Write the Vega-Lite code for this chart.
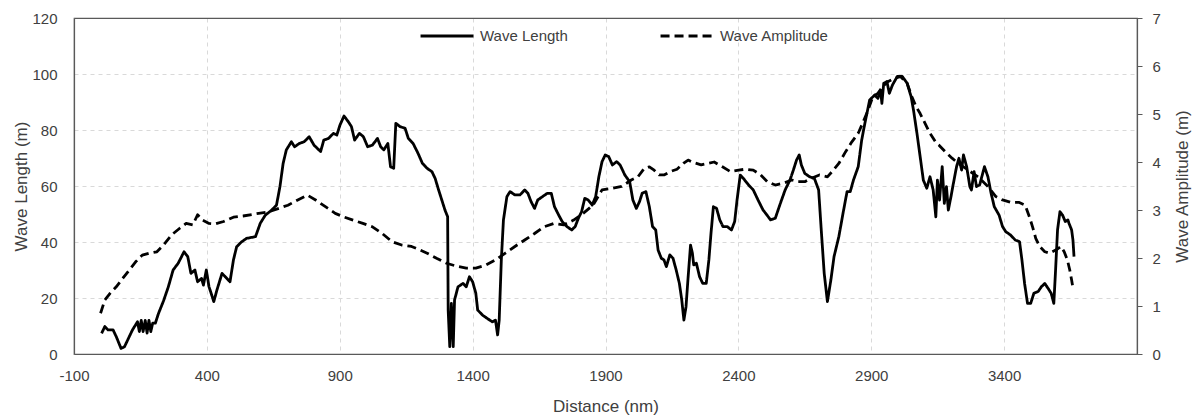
{
  "$schema": "https://vega.github.io/schema/vega-lite/v6.json",
  "width": 1063,
  "height": 336,
  "autosize": {"type": "none"},
  "padding": {"left": 74, "top": 18, "right": 55, "bottom": 63},
  "background": "white",
  "config": {
    "font": "Liberation Sans",
    "view": {"stroke": "#595959", "strokeWidth": 1.2},
    "axis": {"domainColor": "#595959", "domainWidth": 1.2, "labelColor": "#404040", "titleColor": "#404040", "labelFontSize": 15, "titleFontSize": 17, "titleFontWeight": "normal", "labelFont": "Liberation Sans", "titleFont": "Liberation Sans"}
  },
  "datasets": {
    "len": [
      {"d":4,"v":7.4},{"d":16,"v":9.8},{"d":28,"v":8.6},{"d":47,"v":8.6},{"d":59,"v":6.2},{"d":77,"v":2},{"d":90,"v":2.6},{"d":102,"v":5},{"d":120,"v":8.6},{"d":139,"v":11.5},{"d":146,"v":8},{"d":153,"v":12},{"d":160,"v":8},{"d":168,"v":12},{"d":175,"v":7.5},{"d":182,"v":12},{"d":189,"v":8},{"d":196,"v":11},{"d":206,"v":11},{"d":218,"v":14.5},{"d":237,"v":19},{"d":255,"v":24},{"d":273,"v":30},{"d":292,"v":32.4},{"d":314,"v":36.5},{"d":328,"v":34.8},{"d":340,"v":28.8},{"d":355,"v":30},{"d":365,"v":25.8},{"d":380,"v":27},{"d":387,"v":24.6},{"d":398,"v":30},{"d":408,"v":24},{"d":416,"v":21.7},{"d":426,"v":18.7},{"d":438,"v":22.9},{"d":457,"v":28.8},{"d":469,"v":27.6},{"d":487,"v":25.8},{"d":500,"v":33.6},{"d":512,"v":38.3},{"d":530,"v":40},{"d":549,"v":41.3},{"d":583,"v":41.9},{"d":601,"v":46.7},{"d":620,"v":49.6},{"d":644,"v":51.4},{"d":662,"v":53.2},{"d":675,"v":59.8},{"d":687,"v":68.1},{"d":699,"v":72.9},{"d":718,"v":75.8},{"d":730,"v":74},{"d":748,"v":75.2},{"d":766,"v":75.8},{"d":785,"v":77.6},{"d":803,"v":74.6},{"d":828,"v":72.3},{"d":840,"v":76.4},{"d":858,"v":77},{"d":876,"v":78.8},{"d":889,"v":78.2},{"d":901,"v":81.8},{"d":916,"v":85},{"d":932,"v":83},{"d":944,"v":81.2},{"d":956,"v":76.4},{"d":974,"v":78.8},{"d":989,"v":77.6},{"d":1005,"v":74},{"d":1023,"v":74.6},{"d":1042,"v":77},{"d":1054,"v":74},{"d":1066,"v":72.9},{"d":1081,"v":75.2},{"d":1091,"v":66.9},{"d":1103,"v":66.3},{"d":1111,"v":82.4},{"d":1127,"v":81.2},{"d":1146,"v":80.6},{"d":1158,"v":77},{"d":1176,"v":75.2},{"d":1195,"v":71.6},{"d":1211,"v":68.1},{"d":1229,"v":66.3},{"d":1247,"v":65.1},{"d":1259,"v":62.7},{"d":1272,"v":58.6},{"d":1284,"v":55},{"d":1296,"v":51.4},{"d":1306,"v":49},{"d":1308,"v":15.7},{"d":1314,"v":2.6},{"d":1320,"v":18.1},{"d":1327,"v":2.6},{"d":1332,"v":19.3},{"d":1345,"v":24},{"d":1364,"v":25.2},{"d":1376,"v":24},{"d":1388,"v":27.6},{"d":1400,"v":25.8},{"d":1412,"v":21.7},{"d":1419,"v":15.7},{"d":1437,"v":13.9},{"d":1455,"v":12.7},{"d":1474,"v":11.5},{"d":1486,"v":12.1},{"d":1494,"v":6.8},{"d":1500,"v":12.1},{"d":1508,"v":33.6},{"d":1516,"v":47.9},{"d":1529,"v":56.2},{"d":1541,"v":58},{"d":1559,"v":56.8},{"d":1578,"v":56.8},{"d":1596,"v":58.6},{"d":1608,"v":57.4},{"d":1620,"v":54.4},{"d":1633,"v":52},{"d":1645,"v":55},{"d":1663,"v":56.2},{"d":1681,"v":57.4},{"d":1696,"v":57.4},{"d":1708,"v":52.6},{"d":1724,"v":49.6},{"d":1737,"v":47.3},{"d":1755,"v":45.5},{"d":1773,"v":44.3},{"d":1786,"v":45.5},{"d":1798,"v":48.5},{"d":1810,"v":50.8},{"d":1822,"v":55.6},{"d":1835,"v":55},{"d":1850,"v":53.2},{"d":1863,"v":56.2},{"d":1875,"v":63.3},{"d":1887,"v":68.7},{"d":1899,"v":71.1},{"d":1912,"v":70.5},{"d":1926,"v":67.5},{"d":1942,"v":68.7},{"d":1955,"v":67.5},{"d":1973,"v":63.9},{"d":1991,"v":61.5},{"d":2003,"v":55},{"d":2016,"v":52},{"d":2028,"v":54.4},{"d":2038,"v":57.4},{"d":2052,"v":58},{"d":2065,"v":52.6},{"d":2077,"v":45.5},{"d":2089,"v":44.3},{"d":2098,"v":37.1},{"d":2110,"v":34.2},{"d":2120,"v":33.6},{"d":2129,"v":31.2},{"d":2142,"v":35.4},{"d":2154,"v":34.2},{"d":2166,"v":30},{"d":2178,"v":25.2},{"d":2187,"v":19.3},{"d":2195,"v":12.1},{"d":2203,"v":16.9},{"d":2211,"v":27.6},{"d":2220,"v":38.9},{"d":2227,"v":36},{"d":2232,"v":31.8},{"d":2242,"v":32.4},{"d":2254,"v":27.6},{"d":2266,"v":25.2},{"d":2279,"v":25.2},{"d":2289,"v":33.6},{"d":2297,"v":43.1},{"d":2306,"v":52.6},{"d":2318,"v":52},{"d":2330,"v":47.9},{"d":2342,"v":45.5},{"d":2358,"v":45.5},{"d":2374,"v":44.3},{"d":2386,"v":47.3},{"d":2395,"v":55},{"d":2407,"v":63.9},{"d":2419,"v":62.7},{"d":2438,"v":60.4},{"d":2456,"v":58.6},{"d":2474,"v":55},{"d":2493,"v":51.4},{"d":2503,"v":50.2},{"d":2521,"v":47.9},{"d":2539,"v":48.5},{"d":2558,"v":53.8},{"d":2576,"v":58.6},{"d":2594,"v":62.1},{"d":2607,"v":65.7},{"d":2619,"v":69.3},{"d":2629,"v":71.1},{"d":2637,"v":67.5},{"d":2650,"v":64.5},{"d":2668,"v":63.3},{"d":2686,"v":62.7},{"d":2702,"v":58.6},{"d":2711,"v":45.5},{"d":2723,"v":28.8},{"d":2735,"v":18.7},{"d":2748,"v":26.4},{"d":2760,"v":34.8},{"d":2778,"v":41.9},{"d":2796,"v":51.4},{"d":2809,"v":58},{"d":2821,"v":58},{"d":2833,"v":62.1},{"d":2851,"v":66.9},{"d":2864,"v":76.4},{"d":2876,"v":82.4},{"d":2894,"v":90.7},{"d":2913,"v":92.5},{"d":2925,"v":91.3},{"d":2935,"v":94.3},{"d":2940,"v":89.5},{"d":2947,"v":96.7},{"d":2959,"v":97.3},{"d":2968,"v":93.1},{"d":2980,"v":96.1},{"d":2998,"v":99.1},{"d":3017,"v":99.1},{"d":3035,"v":96.7},{"d":3050,"v":91.9},{"d":3059,"v":87.1},{"d":3072,"v":78.8},{"d":3084,"v":70.5},{"d":3096,"v":62.1},{"d":3109,"v":59.2},{"d":3121,"v":63.3},{"d":3133,"v":58.6},{"d":3143,"v":49},{"d":3149,"v":62.1},{"d":3157,"v":55},{"d":3167,"v":66.9},{"d":3175,"v":53.8},{"d":3183,"v":59.8},{"d":3190,"v":51.4},{"d":3200,"v":56.2},{"d":3209,"v":60.9},{"d":3221,"v":66.9},{"d":3230,"v":69.9},{"d":3240,"v":65.7},{"d":3247,"v":71.1},{"d":3259,"v":66.9},{"d":3271,"v":59.8},{"d":3277,"v":58.6},{"d":3287,"v":65.1},{"d":3296,"v":59.8},{"d":3308,"v":60.4},{"d":3326,"v":66.9},{"d":3339,"v":63.3},{"d":3351,"v":57.4},{"d":3363,"v":52.6},{"d":3381,"v":49.6},{"d":3394,"v":45.5},{"d":3406,"v":43.7},{"d":3424,"v":42.5},{"d":3442,"v":40.7},{"d":3458,"v":40.1},{"d":3467,"v":33.6},{"d":3477,"v":25.2},{"d":3488,"v":18.1},{"d":3500,"v":18.1},{"d":3512,"v":21.7},{"d":3528,"v":22.3},{"d":3540,"v":24},{"d":3553,"v":25.2},{"d":3565,"v":23.5},{"d":3577,"v":21.7},{"d":3587,"v":18.1},{"d":3593,"v":28.8},{"d":3601,"v":44.3},{"d":3610,"v":50.8},{"d":3620,"v":49.6},{"d":3630,"v":47.3},{"d":3640,"v":47.9},{"d":3644,"v":46.7},{"d":3654,"v":44.3},{"d":3659,"v":40.7},{"d":3663,"v":34.8}
    ],
    "amp": [
      {"d":0,"v":0.85},{"d":16,"v":1.125},{"d":35,"v":1.26},{"d":59,"v":1.4},{"d":84,"v":1.58},{"d":108,"v":1.75},{"d":132,"v":1.92},{"d":157,"v":2.06},{"d":182,"v":2.1},{"d":212,"v":2.13},{"d":237,"v":2.27},{"d":267,"v":2.48},{"d":298,"v":2.62},{"d":322,"v":2.72},{"d":347,"v":2.69},{"d":365,"v":2.9},{"d":383,"v":2.79},{"d":408,"v":2.72},{"d":432,"v":2.71},{"d":463,"v":2.76},{"d":500,"v":2.85},{"d":536,"v":2.875},{"d":595,"v":2.93},{"d":632,"v":2.96},{"d":668,"v":3.03},{"d":705,"v":3.1},{"d":742,"v":3.21},{"d":778,"v":3.31},{"d":809,"v":3.21},{"d":846,"v":3.07},{"d":883,"v":2.93},{"d":913,"v":2.86},{"d":950,"v":2.79},{"d":987,"v":2.72},{"d":1023,"v":2.65},{"d":1060,"v":2.51},{"d":1097,"v":2.34},{"d":1133,"v":2.27},{"d":1170,"v":2.24},{"d":1201,"v":2.17},{"d":1229,"v":2.1},{"d":1266,"v":1.99},{"d":1302,"v":1.89},{"d":1339,"v":1.83},{"d":1376,"v":1.79},{"d":1412,"v":1.79},{"d":1449,"v":1.85},{"d":1486,"v":1.96},{"d":1523,"v":2.1},{"d":1559,"v":2.24},{"d":1596,"v":2.375},{"d":1633,"v":2.51},{"d":1669,"v":2.65},{"d":1706,"v":2.72},{"d":1743,"v":2.69},{"d":1780,"v":2.79},{"d":1816,"v":2.93},{"d":1853,"v":3.1},{"d":1887,"v":3.42},{"d":1924,"v":3.45},{"d":1961,"v":3.49},{"d":1997,"v":3.625},{"d":2022,"v":3.69},{"d":2046,"v":3.87},{"d":2065,"v":3.9},{"d":2083,"v":3.83},{"d":2102,"v":3.73},{"d":2120,"v":3.73},{"d":2144,"v":3.8},{"d":2169,"v":3.85},{"d":2193,"v":3.97},{"d":2211,"v":4.04},{"d":2230,"v":3.99},{"d":2260,"v":3.94},{"d":2285,"v":3.97},{"d":2309,"v":4.0},{"d":2340,"v":3.9},{"d":2370,"v":3.8},{"d":2401,"v":3.83},{"d":2426,"v":3.85},{"d":2456,"v":3.83},{"d":2484,"v":3.73},{"d":2509,"v":3.59},{"d":2539,"v":3.52},{"d":2570,"v":3.56},{"d":2601,"v":3.625},{"d":2625,"v":3.59},{"d":2650,"v":3.59},{"d":2674,"v":3.66},{"d":2705,"v":3.73},{"d":2735,"v":3.69},{"d":2753,"v":3.8},{"d":2778,"v":3.97},{"d":2803,"v":4.21},{"d":2827,"v":4.42},{"d":2851,"v":4.6},{"d":2870,"v":4.84},{"d":2888,"v":5.08},{"d":2906,"v":5.36},{"d":2925,"v":5.43},{"d":2943,"v":5.57},{"d":2962,"v":5.67},{"d":2986,"v":5.74},{"d":3010,"v":5.78},{"d":3035,"v":5.64},{"d":3053,"v":5.36},{"d":3069,"v":5.15},{"d":3084,"v":5.01},{"d":3102,"v":4.81},{"d":3121,"v":4.6},{"d":3145,"v":4.39},{"d":3155,"v":4.35},{"d":3179,"v":4.21},{"d":3204,"v":4.08},{"d":3228,"v":3.97},{"d":3265,"v":3.83},{"d":3302,"v":3.69},{"d":3339,"v":3.49},{"d":3369,"v":3.28},{"d":3394,"v":3.21},{"d":3424,"v":3.16},{"d":3455,"v":3.16},{"d":3479,"v":3.1},{"d":3495,"v":2.86},{"d":3507,"v":2.65},{"d":3519,"v":2.41},{"d":3534,"v":2.24},{"d":3553,"v":2.13},{"d":3571,"v":2.1},{"d":3596,"v":2.17},{"d":3614,"v":2.24},{"d":3626,"v":2.13},{"d":3638,"v":1.96},{"d":3647,"v":1.75},{"d":3654,"v":1.54},{"d":3659,"v":1.37}
    ]
  },
  "layer": [
    {
      "data": {"name": "len"},
      "mark": {"type": "line", "color": "black", "strokeWidth": 2.8, "strokeJoin": "round"},
      "encoding": {
        "x": {
          "field": "d", "type": "quantitative",
          "scale": {"domain": [-100, 3900], "nice": false, "zero": false},
          "axis": {"values": [-100, 400, 900, 1400, 1900, 2400, 2900, 3400], "labelExpr": "'' + datum.value", "title": "Distance (nm)", "ticks": false, "labelPadding": 14, "grid": true, "gridColor": "#d9d9d9", "gridDash": [4, 4], "titleY": 57.5, "titleBaseline": "alphabetic", "labelFlush": false}
        },
        "y": {
          "field": "v", "type": "quantitative",
          "scale": {"domain": [0, 120], "nice": false},
          "axis": {
            "values": [0, 20, 40, 60, 80, 100, 120], "labelExpr": "'' + datum.value", "title": "Wave Length (m)", "ticks": false, "labelPadding": 17, "grid": true,
            "gridColor": {"condition": {"test": "datum.value === 120", "value": "#595959"}, "value": "#d9d9d9"},
            "gridDash": {"condition": {"test": "datum.value === 120", "value": [1, 0]}, "value": [4, 4]},
            "gridWidth": {"condition": {"test": "datum.value === 120", "value": 1.2}, "value": 1},
            "titleX": -47.5, "titleBaseline": "alphabetic", "labelFlush": false
          }
        },
        "strokeDash": {
          "datum": "Wave Length", "type": "nominal",
          "scale": {"domain": ["Wave Length", "Wave Amplitude"], "range": [[1, 0], [9, 5]]},
          "legend": {"orient": "none", "legendX": 345, "legendY": -10, "direction": "horizontal", "title": null, "symbolType": "stroke", "symbolSize": 2800, "symbolStrokeWidth": 2.8, "symbolStrokeColor": "black", "labelFontSize": 15, "labelColor": "#404040", "labelOffset": 5, "columnPadding": 86, "padding": 0}
        }
      }
    },
    {
      "data": {"name": "amp"},
      "mark": {"type": "line", "color": "black", "strokeWidth": 2.8, "strokeJoin": "round"},
      "encoding": {
        "x": {"field": "d", "type": "quantitative"},
        "y": {
          "field": "v", "type": "quantitative",
          "scale": {"domain": [0, 7], "nice": false},
          "axis": {"orient": "right", "values": [0, 1, 2, 3, 4, 5, 6, 7], "title": "Wave Amplitude (m)", "ticks": true, "tickSize": 5, "tickColor": "#595959", "labelPadding": 10, "grid": false, "titleAngle": 270, "titleX": 50.5, "titleBaseline": "alphabetic", "labelFlush": false}
        },
        "strokeDash": {"datum": "Wave Amplitude", "type": "nominal"}
      }
    }
  ],
  "resolve": {"scale": {"y": "independent"}}
}
